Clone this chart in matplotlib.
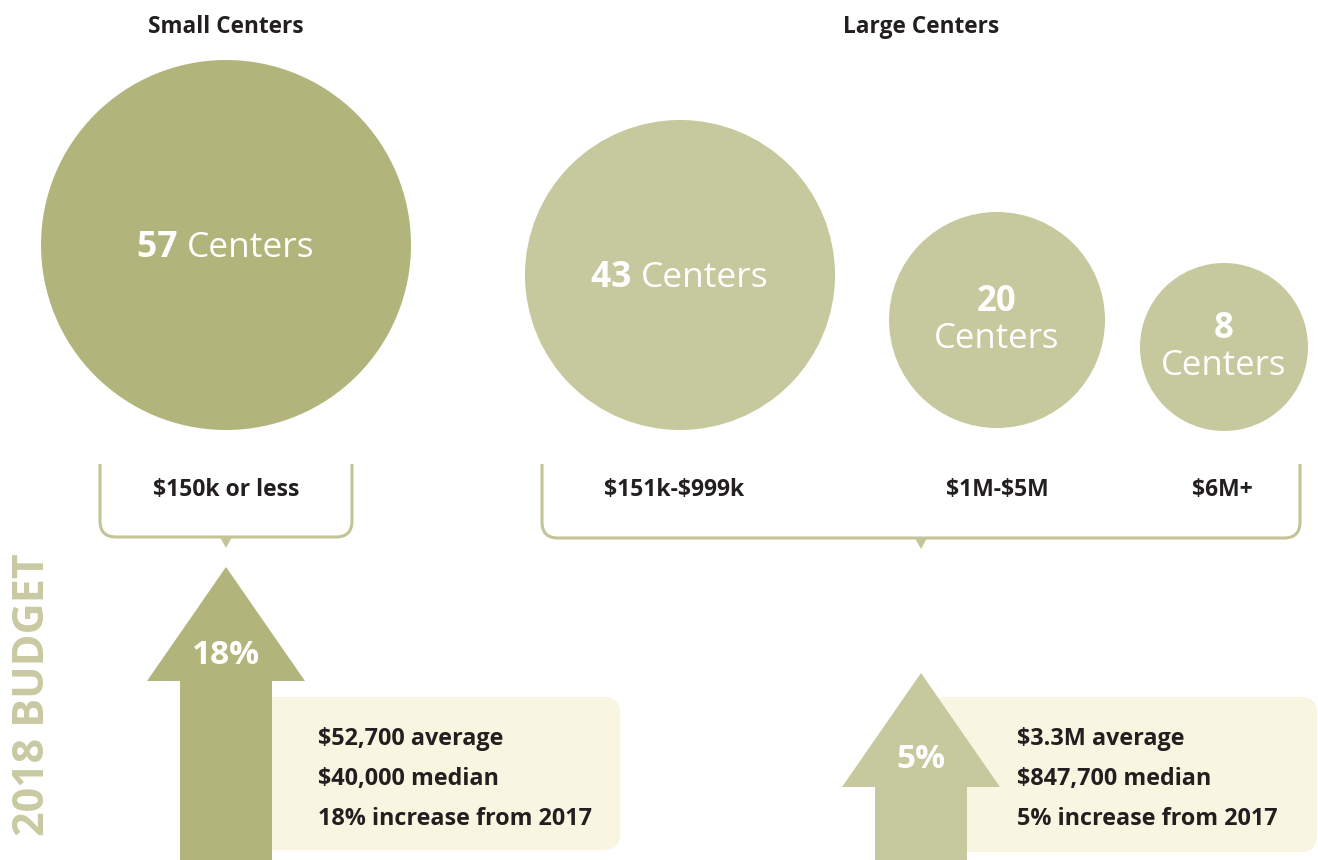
import matplotlib
matplotlib.use("Agg")
import matplotlib.pyplot as plt
from matplotlib.patches import Circle, Polygon, FancyBboxPatch, PathPatch
from matplotlib.path import Path

plt.rcParams['text.parse_math'] = False

# ---- data ----
group_titles = ["Small Centers", "Large Centers"]
center_counts = [57, 43, 20, 8]
budget_ranges = ["$150k or less", "$151k-$999k", "$1M-$5M", "$6M+"]
pct_increase = [18, 5]
small_stats = ["$52,700 average", "$40,000 median", "18% increase from 2017"]
large_stats = ["$3.3M average", "$847,700 median", "5% increase from 2017"]
side_label = "2018 BUDGET"

# ---- layout / style ----
FONT = "Open Sans"
DARK = "#b2b57b"
LIGHT = "#c6c99d"
CREAM = "#f8f5e1"
LINE = "#c3c596"
TXT = "#231f20"
SIDE = "#c9caa2"
DY = 3  # small baseline correction

circ_x = [226, 680, 997, 1224]
circ_y = [245, 275, 320, 347]
circ_r = [185, 155, 108, 84]
circ_col = [DARK, LIGHT, LIGHT, LIGHT]
two_line = [False, False, True, True]

fig = plt.figure(figsize=(13.18, 8.6), dpi=100)
ax = fig.add_axes([0, 0, 1, 1])
ax.set_xlim(0, 1318)
ax.set_ylim(860, 0)
ax.set_aspect("equal")
ax.axis("off")

# titles
ax.text(226, 24 + DY, group_titles[0], ha="center", va="center", fontsize=16.3,
        fontweight="bold", color=TXT, family=FONT)
ax.text(921, 24 + DY, group_titles[1], ha="center", va="center", fontsize=16.3,
        fontweight="bold", color=TXT, family=FONT)

fig.canvas.draw()
renderer = fig.canvas.get_renderer()

def mixed_label(x, y, num, word, size):
    t1 = ax.text(0, y, str(num) + " ", ha="left", va="center", fontsize=size,
                 fontweight="bold", color="white", family=FONT)
    t2 = ax.text(0, y, word, ha="left", va="center", fontsize=size,
                 color="white", family=FONT)
    inv = ax.transData.inverted()
    def w(t):
        bb = t.get_window_extent(renderer)
        p0 = inv.transform((bb.x0, bb.y0))
        p1 = inv.transform((bb.x1, bb.y0))
        return p1[0] - p0[0]
    w1, w2 = w(t1), w(t2)
    start = x - (w1 + w2) / 2
    t1.set_x(start)
    t2.set_x(start + w1)

for i, n in enumerate(center_counts):
    ax.add_patch(Circle((circ_x[i], circ_y[i]), circ_r[i], color=circ_col[i], lw=0))
    if two_line[i]:
        ax.text(circ_x[i], circ_y[i] - 18, str(n), ha="center", va="center",
                fontsize=25, fontweight="bold", color="white", family=FONT)
        ax.text(circ_x[i], circ_y[i] + 19, "Centers", ha="center", va="center",
                fontsize=25, color="white", family=FONT)
    else:
        mixed_label(circ_x[i], circ_y[i] + DY, n, "Centers", 25.5)

# range labels
label_x = [226, 674, 997, 1222]
for lx, lab in zip(label_x, budget_ranges):
    ax.text(lx, 487 + DY, lab, ha="center", va="center", fontsize=16.5,
            fontweight="bold", color=TXT, family=FONT)

def bracket(x0, x1, xm, top, bottom, r=16):
    verts = [(x0, top), (x0, bottom - r), (x0, bottom), (x0 + r, bottom),
             (x1 - r, bottom), (x1, bottom), (x1, bottom - r), (x1, top)]
    codes = [Path.MOVETO, Path.LINETO, Path.CURVE3, Path.CURVE3,
             Path.LINETO, Path.CURVE3, Path.CURVE3, Path.LINETO]
    ax.add_patch(PathPatch(Path(verts, codes), fill=False, edgecolor=LINE, lw=2.2))
    ax.add_patch(Polygon([(xm - 6, bottom), (xm + 6, bottom), (xm, bottom + 11)],
                         closed=True, color=LINE, lw=0))

bracket(100, 352, 226, 464, 537)
bracket(542, 1300, 921, 464, 538)

# stat boxes
ax.add_patch(FancyBboxPatch((240, 697), 380, 153,
                            boxstyle="round,pad=0,rounding_size=16",
                            facecolor=CREAM, edgecolor="none"))
ax.add_patch(FancyBboxPatch((930, 697), 387, 155,
                            boxstyle="round,pad=0,rounding_size=16",
                            facecolor=CREAM, edgecolor="none"))

def arrow(xc, tip, head_base, head_half, shaft_half, col):
    pts = [(xc, tip), (xc + head_half, head_base), (xc + shaft_half, head_base),
           (xc + shaft_half, 870), (xc - shaft_half, 870), (xc - shaft_half, head_base),
           (xc - head_half, head_base)]
    ax.add_patch(Polygon(pts, closed=True, color=col, lw=0, zorder=3))

arrow(226, 567, 681, 79, 46, DARK)
arrow(921, 673, 787, 79, 46, LIGHT)
ax.text(226, 652 + DY, f"{pct_increase[0]}%", ha="center", va="center", fontsize=24,
        fontweight="bold", color="white", family=FONT, zorder=4)
ax.text(921, 757 + DY, f"{pct_increase[1]}%", ha="center", va="center", fontsize=24,
        fontweight="bold", color="white", family=FONT, zorder=4)

for k, s in enumerate(small_stats):
    ax.text(318, 736 + DY + 40 * k, s, ha="left", va="center", fontsize=16.8,
            fontweight="bold", color=TXT, family=FONT)
for k, s in enumerate(large_stats):
    ax.text(1017, 736 + DY + 40 * k, s, ha="left", va="center", fontsize=16.8,
            fontweight="bold", color=TXT, family=FONT)

ax.text(33, 695, side_label, ha="center", va="center", rotation=90, fontsize=31,
        fontweight="bold", color=SIDE, family=FONT)

fig.savefig("out.png", dpi=100)
